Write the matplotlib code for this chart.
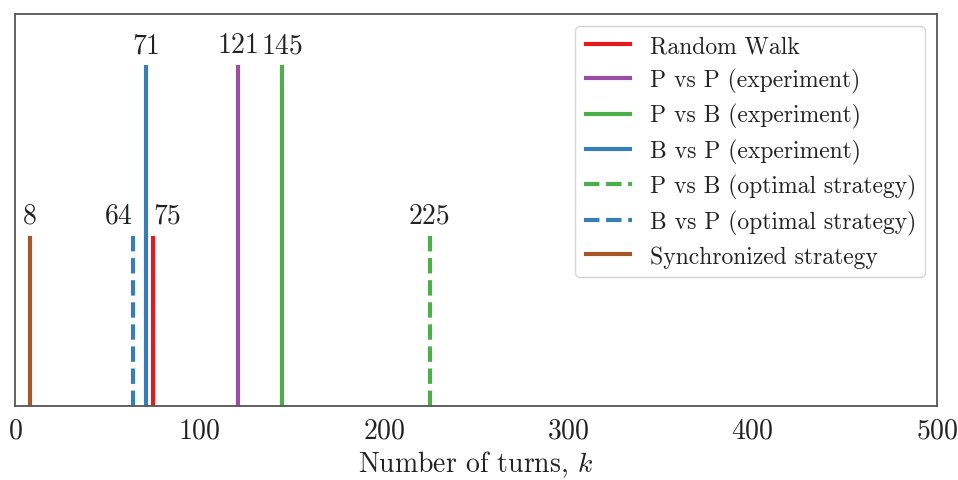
import matplotlib
matplotlib.use("Agg")
import matplotlib.pyplot as plt

plt.rcParams['font.family'] = ['cmr10', 'DejaVu Serif']
plt.rcParams['mathtext.fontset'] = 'cm'
plt.rcParams['axes.formatter.use_mathtext'] = True

labels = ["Random Walk", "P vs P (experiment)", "P vs B (experiment)", "B vs P (experiment)",
          "P vs B (optimal strategy)", "B vs P (optimal strategy)", "Synchronized strategy"]
turns = [75, 121, 145, 71, 225, 64, 8]
heights = [0.5, 1.0, 1.0, 1.0, 0.5, 0.5, 0.5]
colors = ["#e41a1c", "#984ea3", "#4daf4a", "#377eb8", "#4daf4a", "#377eb8", "#a65628"]
styles = ["-", "-", "-", "-", "--", "--", "-"]
text_ha = ["left", "center", "center", "center", "center", "right", "center"]

fig = plt.figure(figsize=(9.58, 4.81), dpi=100)
ax = fig.add_axes([15/958, 1-407/481, (937-15)/958, (407-15)/481])

for t, h, c, s, lab in zip(turns, heights, colors, styles, labels):
    ax.plot([t, t], [0, h], color=c, linestyle=s, lw=3, label=lab,
            solid_capstyle='butt', dash_capstyle='butt')

for t, h, ha in zip(turns, heights, text_ha):
    ax.text(t, h + 0.02, str(t), ha=ha, va='bottom', fontsize=20, color='#222222')

ax.set_xlim(0, 500)
ax.set_ylim(0, 1.15)
ax.set_yticks([])
ax.set_xticks([0, 100, 200, 300, 400, 500])
ax.tick_params(axis='x', length=0, labelsize=20, pad=8, colors='#222222')
for sp in ax.spines.values():
    sp.set_color('#555555')
    sp.set_linewidth(1.3)
ax.set_xlabel("Number of turns, $k$", fontsize=20, color='#222222', labelpad=4)

leg = ax.legend(loc='upper right', fontsize=17, handlelength=2.0, frameon=True,
                borderaxespad=0.5, labelspacing=0.44, handletextpad=0.76)
leg.get_frame().set_edgecolor('#cccccc')
for t in leg.get_texts():
    t.set_color('#222222')

fig.savefig("out.png", dpi=100)
